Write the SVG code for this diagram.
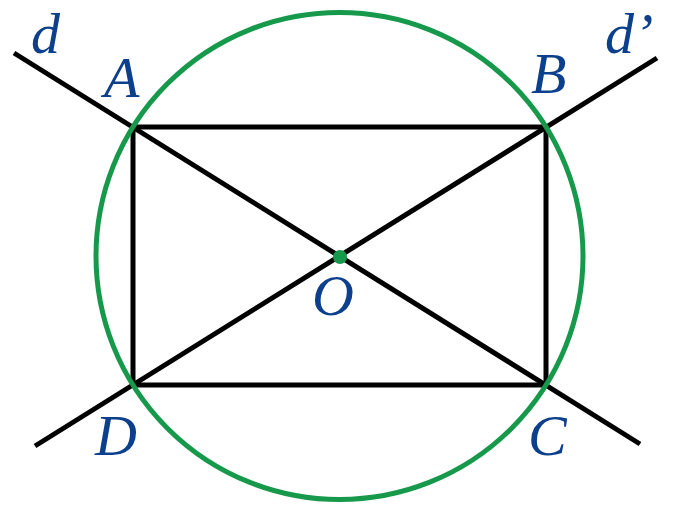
<svg xmlns="http://www.w3.org/2000/svg" width="673" height="518" viewBox="0 0 673 518">
<style>
.ln{stroke:#000;stroke-width:5;fill:none;stroke-linecap:butt}
.lb{font-family:"Liberation Serif",serif;font-style:italic;font-size:58px;fill:#0c3f8c}
</style>
<rect width="673" height="518" fill="#fff"/>
<g id="connectors">
<line class="ln" x1="14" y1="53" x2="640" y2="444"/>
<line class="ln" x1="35" y1="446" x2="657" y2="58"/>
<rect class="ln" x="133" y="127" width="413" height="258"/>
</g>
<g id="circle"><circle cx="339.5" cy="256" r="243.5" fill="none" stroke="#17994b" stroke-width="5"/></g>
<g id="O"><circle cx="340" cy="257" r="7" fill="#17994b"/><text class="lb" x="312" y="315">O</text></g>
<g id="A"><text class="lb" x="104" y="97">A</text></g>
<g id="B"><text class="lb" x="531" y="93">B</text></g>
<g id="C"><text class="lb" x="528" y="455">C</text></g>
<g id="D"><text class="lb" x="95" y="455">D</text></g>
<g id="d"><text class="lb" x="31" y="53">d</text></g>
<g id="dp"><text class="lb" x="605" y="53">d’</text></g>
</svg>
